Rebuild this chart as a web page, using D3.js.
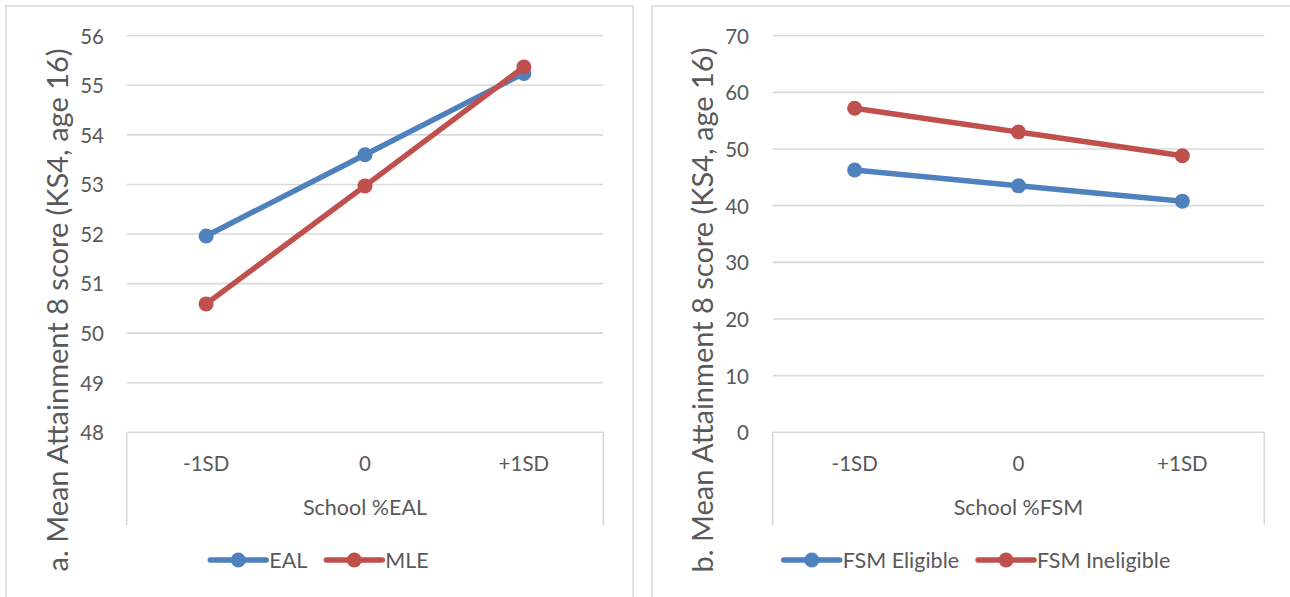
<!DOCTYPE html>
<html>
<head>
<meta charset="utf-8">
<script src="https://cdn.jsdelivr.net/npm/d3@7"></script>
<style>
  html, body { margin: 0; padding: 0; background: #fff; }
  svg { display: block; font-family: Lato, "Open Sans", sans-serif; }
</style>
</head>
<body>
<svg id="chart" width="1290" height="597"></svg>
<script>
// Categories shared by both panels
const categories = ["-1SD", "0", "+1SD"];

// Panel a: school %EAL
const ealValues = [51.96, 53.6, 55.24];
const mleValues = [50.59, 52.97, 55.37];
const eaTicks = [48, 49, 50, 51, 52, 53, 54, 55, 56];

// Panel b: school %FSM
const fsmEligible = [46.3, 43.5, 40.8];
const fsmIneligible = [57.2, 53.0, 48.8];
const fsmTicks = [0, 10, 20, 30, 40, 50, 60, 70];

const BLUE = "#4F81BD";
const RED = "#C0504D";
const TEXT = "#595959";
const GRID = "#D9D9D9";
const LABEL_SIZE = 20.5;
const AXIS_TITLE_SIZE = 21.5;
const Y_TITLE_SIZE = 29;

const svg = d3.select("#chart");

function drawPanel(p) {
  const g = svg.append("g");

  // chart area frame
  g.append("rect")
    .attr("x", p.box[0]).attr("y", p.box[1])
    .attr("width", p.box[2] - p.box[0]).attr("height", p.box[3] - p.box[1])
    .attr("fill", "#fff").attr("stroke", GRID).attr("stroke-width", 1.5);

  const x = d3.scaleBand().domain(categories).range([p.left, p.right]);
  const y = d3.scaleLinear().domain(d3.extent(p.ticks)).range([p.bottom, p.top]);

  // horizontal gridlines
  g.append("g").selectAll("line").data(p.ticks).join("line")
    .attr("x1", p.left).attr("x2", p.right)
    .attr("y1", d => y(d)).attr("y2", d => y(d))
    .attr("stroke", GRID).attr("stroke-width", 1.6);

  // value axis labels
  const yAxis = d3.axisLeft(y).tickValues(p.ticks).tickSize(0).tickPadding(0);
  const ya = g.append("g").attr("transform", `translate(${p.yLabelX},0)`).call(yAxis);
  ya.select(".domain").remove();
  ya.selectAll("text").attr("fill", TEXT).attr("font-size", LABEL_SIZE)
    .attr("font-family", "Lato").attr("dy", "0.36em");

  // category axis: labels plus outer separators
  const xAxis = d3.axisBottom(x).tickSize(0).tickPadding(0);
  const xa = g.append("g").attr("transform", `translate(0,${p.bottom})`).call(xAxis);
  xa.select(".domain").remove();
  xa.selectAll("text").attr("fill", TEXT).attr("font-size", LABEL_SIZE)
    .attr("font-family", "Lato").attr("y", 31).attr("dy", "0.36em");
  g.append("g").selectAll("line").data([p.left, p.right]).join("line")
    .attr("x1", d => d).attr("x2", d => d)
    .attr("y1", p.bottom).attr("y2", p.sepBottom)
    .attr("stroke", GRID).attr("stroke-width", 1.6);

  // axis titles
  g.append("text")
    .attr("x", (p.left + p.right) / 2).attr("y", p.xTitleY)
    .attr("text-anchor", "middle").attr("dy", "0.36em")
    .attr("fill", TEXT).attr("font-size", AXIS_TITLE_SIZE).text(p.xTitle);
  g.append("text")
    .attr("transform", `translate(${p.yTitleX},${p.yTitleY}) rotate(-90)`)
    .attr("text-anchor", "middle").attr("dy", "0.36em")
    .attr("fill", TEXT).attr("font-size", Y_TITLE_SIZE).text(p.yTitle);

  // series
  const line = d3.line().x((d, i) => x(categories[i]) + x.bandwidth() / 2).y(d => y(d));
  p.series.forEach(s => {
    g.append("path").datum(s.values)
      .attr("d", line).attr("fill", "none")
      .attr("stroke", s.color).attr("stroke-width", 5.5)
      .attr("stroke-linejoin", "round").attr("stroke-linecap", "round");
    g.append("g").selectAll("circle").data(s.values).join("circle")
      .attr("cx", (d, i) => x(categories[i]) + x.bandwidth() / 2)
      .attr("cy", d => y(d)).attr("r", 7.5).attr("fill", s.color);
  });

  // legend, centred in the chart area
  const lg = g.append("g");
  const gap = 19;
  let cursor = 0;
  p.series.forEach((s, i) => {
    const item = lg.append("g").attr("transform", `translate(${cursor},0)`);
    item.append("line").attr("x1", 0).attr("x2", 56).attr("y1", 0).attr("y2", 0)
      .attr("stroke", s.color).attr("stroke-width", 5.5).attr("stroke-linecap", "round");
    item.append("circle").attr("cx", 28).attr("cy", 0).attr("r", 7.5).attr("fill", s.color);
    const t = item.append("text").attr("x", 59).attr("dy", "0.36em")
      .attr("fill", TEXT).attr("font-size", AXIS_TITLE_SIZE).text(s.name);
    cursor += 59 + t.node().getComputedTextLength() + gap;
  });
  const total = cursor - gap;
  lg.attr("transform", `translate(${(p.box[0] + p.box[2]) / 2 - total / 2},${p.legendY})`);
}

drawPanel({
  box: [6, 6, 633, 640],
  left: 126.7, right: 603.3, top: 35.7, bottom: 432.3, sepBottom: 525,
  yLabelX: 104, ticks: eaTicks,
  xTitle: "School %EAL", xTitleY: 507,
  yTitle: "a. Mean Attainment 8 score (KS4, age 16)", yTitleX: 58, yTitleY: 310,
  legendY: 560,
  series: [
    { name: "EAL", values: ealValues, color: BLUE },
    { name: "MLE", values: mleValues, color: RED }
  ]
});

drawPanel({
  box: [652, 6, 1302, 640],
  left: 772.7, right: 1264.3, top: 35.7, bottom: 432.3, sepBottom: 525,
  yLabelX: 749, ticks: fsmTicks,
  xTitle: "School %FSM", xTitleY: 507,
  yTitle: "b. Mean Attainment 8 score (KS4, age 16)", yTitleX: 703, yTitleY: 310,
  legendY: 560,
  series: [
    { name: "FSM Eligible", values: fsmEligible, color: BLUE },
    { name: "FSM Ineligible", values: fsmIneligible, color: RED }
  ]
});
</script>
</body>
</html>
